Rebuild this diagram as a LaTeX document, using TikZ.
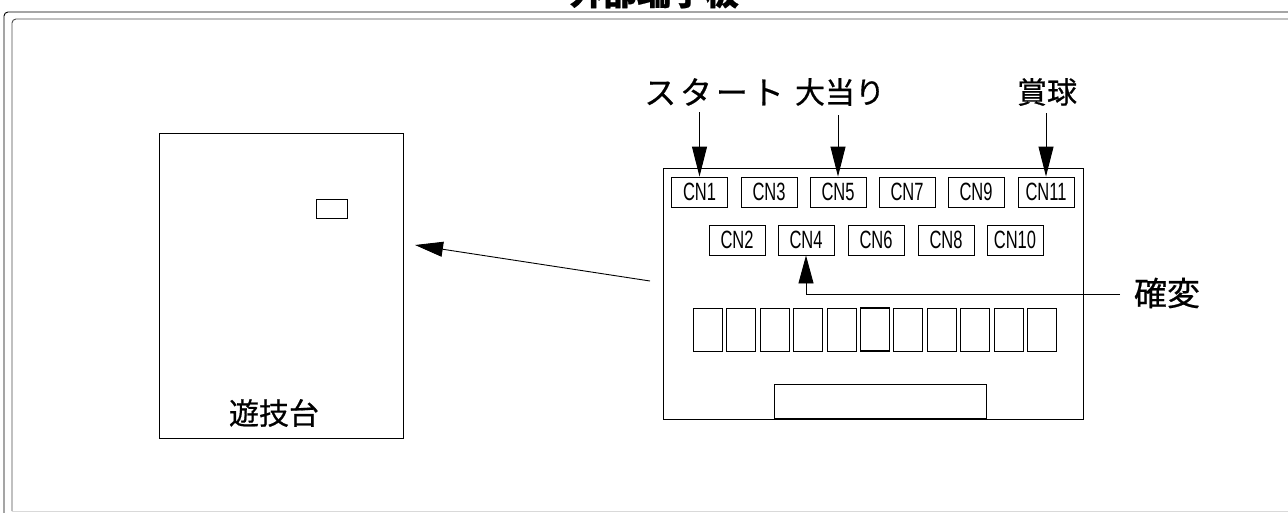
\documentclass[tikz,border=0pt]{standalone}
\usepackage{fontspec}
\setmainfont{Noto Sans CJK JP}[FakeBold=0.6]
\newfontfamily\cnfont[FakeStretch=0.66]{Liberation Sans}
\usetikzlibrary{arrows.meta}
\tikzset{
  ln/.style={line width=0.9pt, draw=black},
  cnbox/.style={ln, rectangle, minimum width=56pt, minimum height=30pt, inner sep=0pt, font=\cnfont\fontsize{25}{25}\selectfont},
  slot/.style={ln, rectangle, minimum width=29pt, minimum height=43pt, inner sep=0pt},
  jp/.style={font=\fontsize{30}{30}\selectfont, inner sep=0pt},
  arr/.style={ln, -{Triangle[length=30pt,width=15pt]}},
}
\begin{document}
\begin{tikzpicture}[x=1pt,y=-1pt]
\useasboundingbox (0,0) rectangle (1288,512);
% frame
\draw[ln, rounded corners=4pt] (4,530) -- (4,12) -- (1300,12);
\draw[line width=0.9pt, draw=black!70, rounded corners=4pt] (12,511) -- (12,19) -- (1300,19);
\draw[line width=0.6pt, draw=black!15] (12,511) -- (1300,511);
\node[jp, anchor=base, font=\fontsize{34}{34}\selectfont\bfseries] (title) at (654,5) {外部端子板};
% game machine
\node[ln, rectangle, minimum width=244pt, minimum height=305pt, inner sep=0pt, anchor=north west] (machine) at (159,133) {};
\node[ln, rectangle, minimum width=31pt, minimum height=19pt, inner sep=0pt, anchor=north west] (small) at (316,199) {};
\node[jp] (machinelabel) at (274,413) {遊技台};
% board
\node[ln, rectangle, minimum width=420pt, minimum height=251pt, inner sep=0pt, anchor=north west] (board) at (663,168) {};
\coordinate (arrstart) at (650,281);
\coordinate (arrend) at (415,245);
\draw[ln, -{Triangle[length=28pt,width=15pt]}] (arrstart) -- (arrend);
% row 1
\node[cnbox] (cn1) at (699.5,192) {CN1};
\node[cnbox] (cn3) at (769,192) {CN3};
\node[cnbox] (cn5) at (838,192) {CN5};
\node[cnbox] (cn7) at (907,192) {CN7};
\node[cnbox] (cn9) at (976,192) {CN9};
\node[cnbox] (cn11) at (1046,192) {CN11};
% row 2
\node[cnbox] (cn2) at (737,240) {CN2};
\node[cnbox] (cn4) at (806,240) {CN4};
\node[cnbox] (cn6) at (876,240) {CN6};
\node[cnbox] (cn8) at (946,240) {CN8};
\node[cnbox] (cn10) at (1015,240) {CN10};
% slots
\foreach \i in {0,...,10} {
  \node[slot] (s\i) at ({708+33.4*\i},329.5) {};
}
\node[line width=1.6pt, draw=black, rectangle, minimum width=29pt, minimum height=43pt, inner sep=0pt] (s5b) at ({708+33.4*5},329.5) {};
\node[ln, rectangle, minimum width=212pt, minimum height=34pt, inner sep=0pt, anchor=south west] (bottomrect) at (774,419) {};
% labels
\node[jp, font=\fontsize{32}{32}\selectfont\addfontfeature{LetterSpace=12}] (start) at (714,92) {スタート};
\node[jp, font=\fontsize{30}{30}\selectfont] (oatari) at (840,92) {大当り};
\node[jp] (shokyu) at (1047,92) {賞球};
\node[jp, font=\fontsize{33}{33}\selectfont] (kakuhen) at (1167,293) {確変};
\coordinate (startarr) at (699.5,112);
\coordinate (oatariarr) at (838,115);
\coordinate (shokyuarr) at (1046,113);
\draw[arr] (startarr) -- (cn1.north);
\draw[arr] (oatariarr) -- (cn5.north);
\draw[arr] (shokyuarr) -- (cn11.north);
\coordinate (kakuhenend) at (1120,294);
\draw[ln, -{Triangle[length=28pt,width=15pt]}] (kakuhenend) -- (806,294) -- (cn4.south);
\end{tikzpicture}
\end{document}
